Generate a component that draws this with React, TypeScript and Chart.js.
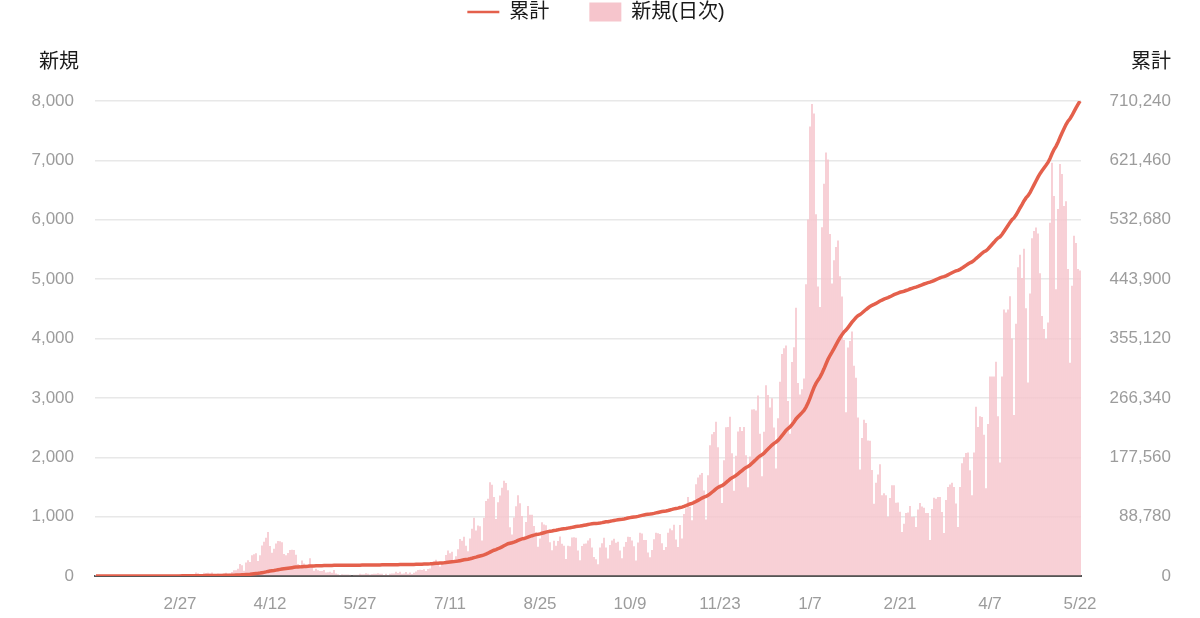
import { useEffect, useRef } from "react";
import { Chart, registerables } from "chart.js";

Chart.register(...registerables);

// Daily new cases, one array per month, starting 2020-01-16
const jan2020 = [1, 0, 0, 0, 0, 0, 0, 1, 0, 1, 0, 1, 3, 1, 3, 3];
const feb2020 = [2, 0, 0, 0, 2, 0, 0, 0, 1, 0, 1, 0, 5, 9, 8, 5, 6, 5, 3, 10, 11, 14, 8, 11, 14, 20, 25, 20, 13];
const mar2020 = [14, 15, 20, 34, 34, 59, 47, 33, 26, 54, 52, 56, 44, 61, 27, 16, 44, 39, 38, 40, 53, 35, 39, 66, 97, 97, 123, 201, 179, 88, 227];
const apr2020 = [266, 235, 351, 368, 383, 252, 351, 515, 576, 644, 743, 507, 392, 457, 548, 589, 585, 568, 372, 350, 388, 437, 443, 440, 357, 201, 166, 263, 210, 191];
const may2020 = [193, 300, 176, 87, 123, 96, 83, 84, 101, 57, 64, 73, 55, 99, 44, 30, 16, 31, 27, 27, 26, 23, 14, 21, 21, 20, 36, 30, 28, 46, 37];
const jun2020 = [27, 34, 39, 39, 47, 40, 39, 15, 38, 18, 38, 41, 44, 72, 50, 72, 39, 41, 69, 37, 57, 33, 53, 74, 103, 104, 99, 112, 85, 119];
const jul2020 = [126, 195, 250, 274, 208, 159, 207, 200, 355, 430, 385, 408, 259, 332, 451, 622, 594, 660, 508, 418, 632, 795, 981, 768, 852, 839, 598, 982, 1264, 1301, 1580];
const aug2020 = [1535, 1331, 959, 1242, 1357, 1485, 1605, 1565, 1445, 819, 700, 985, 1176, 1360, 1227, 1009, 615, 910, 1179, 1033, 1030, 844, 739, 492, 630, 906, 868, 854, 770, 569, 433];
const sep2020 = [595, 510, 588, 665, 543, 509, 287, 511, 501, 649, 651, 643, 430, 267, 506, 544, 547, 596, 634, 480, 320, 281, 197, 480, 552, 645, 479, 294, 521, 599];
const oct2020 = [627, 561, 575, 429, 297, 493, 571, 662, 658, 596, 502, 260, 564, 727, 715, 605, 608, 394, 316, 440, 621, 728, 718, 709, 551, 437, 487, 730, 802, 772, 862];
const nov2020 = [613, 487, 859, 631, 1046, 1139, 1332, 1168, 940, 1278, 1547, 1661, 1704, 1736, 1440, 950, 1698, 2201, 2388, 2424, 2596, 2168, 1518, 1228, 1948, 2504, 2509, 2684, 2068, 1436];
const dec2020 = [2027, 2433, 2510, 2442, 2508, 2035, 1494, 2013, 2806, 2810, 2788, 3041, 2396, 1681, 2430, 3211, 3048, 2839, 2993, 2499, 1809, 2657, 3271, 3740, 3835, 3881, 2947, 2395, 3604, 3852, 4520];
const jan2021 = [3250, 3058, 3144, 3326, 4915, 6004, 7570, 7950, 7790, 6094, 4876, 4529, 5874, 6605, 7133, 7014, 5759, 4925, 5320, 5540, 5650, 5050, 4707, 3975, 2760, 3850, 3960, 4120, 3540, 3340, 2670];
const feb2021 = [1792, 2324, 2631, 2576, 2284, 2279, 1784, 1217, 1569, 1711, 1882, 1359, 1393, 1359, 1000, 1312, 1530, 1527, 1234, 1238, 1081, 739, 879, 1063, 1071, 1177, 995, 999];
const mar2021 = [825, 1120, 1230, 1170, 1150, 1060, 1060, 605, 1130, 1320, 1300, 1330, 1330, 1080, 725, 1280, 1500, 1540, 1570, 1500, 1220, 825, 1500, 1900, 2000, 2070, 2080, 1780, 1360, 2080, 2850];
const apr2021 = [2510, 2690, 2680, 2380, 1480, 2560, 3360, 3360, 3360, 3610, 2690, 1910, 3360, 4490, 4440, 4490, 4710, 4000, 2710, 4250, 5200, 5410, 5020, 5510, 4510, 3260, 4760, 5690, 5810, 5870];
const may2021 = [5770, 5100, 4380, 4160, 3990, 4270, 5950, 6960, 6400, 4830, 6180, 6940, 6770, 6230, 6310, 5170, 3590, 4890, 5730, 5610, 5170, 5146];

const dailyNew = [
  ...jan2020, ...feb2020, ...mar2020, ...apr2020, ...may2020, ...jun2020,
  ...jul2020, ...aug2020, ...sep2020, ...oct2020, ...nov2020, ...dec2020,
  ...jan2021, ...feb2021, ...mar2021, ...apr2021, ...may2021,
];

// Running total of the daily counts
const cumulative: number[] = [];
dailyNew.reduce((acc, v) => {
  const next = acc + v;
  cumulative.push(next);
  return next;
}, 0);

const dateLabels = dailyNew.map((_, i) => {
  const d = new Date(2020, 0, 16 + i);
  return `${d.getMonth() + 1}/${d.getDate()}`;
});

const seriesNames = ["累計", "新規(日次)"];
const axisTitles = ["新規", "累計"];
const leftMax = 8000;
const leftStep = 1000;
const rightMax = 710240;
const rightStep = 88780;
const tickEvery = 45; // days between date labels, counted back from the last day

const fontFamily = '"Helvetica Neue", "Liberation Sans", "Noto Sans CJK JP", sans-serif';
const lineColor = "#e4604c";
const barColor = "#f6c5cc";
const tickColor = "#9c9c9c";

// Reserve room between the legend and the plot for the axis titles
const legendSpacer = {
  id: "legendSpacer",
  beforeInit(chart: any) {
    const legend = chart.legend;
    const fit = legend.fit;
    legend.fit = function () {
      fit.call(this);
      this.height = 139;
    };
  },
};

// Horizontal axis titles above each value axis
const axisTitlePlugin = {
  id: "axisTitles",
  afterDraw(chart: any) {
    const { ctx, chartArea, scales } = chart;
    ctx.save();
    ctx.font = `20px ${fontFamily}`;
    ctx.fillStyle = "#1a1a1a";
    ctx.textAlign = "right";
    ctx.textBaseline = "middle";
    const y = chartArea.top - 39;
    ctx.fillText(axisTitles[0], scales.y.right - 16, y);
    ctx.fillText(axisTitles[1], scales.y1.right, y);
    ctx.restore();
  },
};

export default function App() {
  const canvasRef = useRef<HTMLCanvasElement>(null);

  useEffect(() => {
    const canvas = canvasRef.current;
    if (!canvas) return;
    const n = dailyNew.length;
    const chart = new Chart(canvas, {
      type: "bar",
      data: {
        labels: dateLabels,
        datasets: [
          {
            type: "line",
            label: seriesNames[0],
            data: cumulative,
            yAxisID: "y1",
            borderColor: lineColor,
            backgroundColor: lineColor,
            borderWidth: 3.5,
            pointRadius: 0,
            tension: 0,
            fill: false,
          } as any,
          {
            type: "bar",
            label: seriesNames[1],
            data: dailyNew,
            yAxisID: "y",
            backgroundColor: barColor,
            borderWidth: 0,
            barPercentage: 0.8,
            categoryPercentage: 1,
          },
        ],
      },
      options: {
        animation: false,
        responsive: true,
        maintainAspectRatio: false,
        layout: { padding: { left: 21, right: 29, top: 0, bottom: 0 } },
        plugins: {
          tooltip: { enabled: false },
          legend: {
            position: "top",
            align: "center",
            labels: {
              usePointStyle: true,
              pointStyleWidth: 32,
              boxHeight: 19,
              padding: 40,
              color: "#1a1a1a",
              font: { family: fontFamily, size: 20 },
              generateLabels: (c: any) => {
                const items = (Chart.defaults.plugins.legend.labels as any).generateLabels(c);
                return items.map((item: any, i: number) => ({
                  ...item,
                  pointStyle: i === 0 ? "line" : "rect",
                  lineWidth: i === 0 ? 2.5 : 0,
                  strokeStyle: i === 0 ? lineColor : barColor,
                  fillStyle: i === 0 ? lineColor : barColor,
                }));
              },
            },
          },
        },
        scales: {
          x: {
            grid: { display: false, drawTicks: false },
            border: { display: true, color: "#555555", width: 2 },
            ticks: {
              autoSkip: false,
              maxRotation: 0,
              minRotation: 0,
              padding: 18,
              color: tickColor,
              font: { family: fontFamily, size: 17 },
              callback: function (this: any, value: any, index: number) {
                return (n - 1 - index) % tickEvery === 0 ? dateLabels[index] : null;
              },
            },
            afterFit: (scale: any) => {
              scale.height = 42;
            },
          },
          y: {
            position: "left",
            min: 0,
            max: leftMax,
            grid: { color: "#e8e8e8", lineWidth: 1.5, drawTicks: false },
            border: { display: false },
            ticks: {
              stepSize: leftStep,
              padding: 21,
              color: tickColor,
              font: { family: fontFamily, size: 17 },
              callback: (v: any) => Number(v).toLocaleString("en-US"),
            },
            afterFit: (scale: any) => {
              scale.width = 74;
            },
          },
          y1: {
            position: "right",
            min: 0,
            max: rightMax,
            grid: { display: false, drawTicks: false },
            border: { display: false },
            ticks: {
              stepSize: rightStep,
              padding: 20,
              crossAlign: "far",
              color: tickColor,
              font: { family: fontFamily, size: 17 },
              callback: (v: any) => Number(v).toLocaleString("en-US"),
            },
            afterFit: (scale: any) => {
              scale.width = 90;
            },
          },
        },
      },
      plugins: [legendSpacer, axisTitlePlugin],
    });
    return () => chart.destroy();
  }, []);

  return (
    <div style={{ position: "absolute", left: 0, top: -38, width: 1200, height: 656 }}>
      <canvas ref={canvasRef} />
    </div>
  );
}
